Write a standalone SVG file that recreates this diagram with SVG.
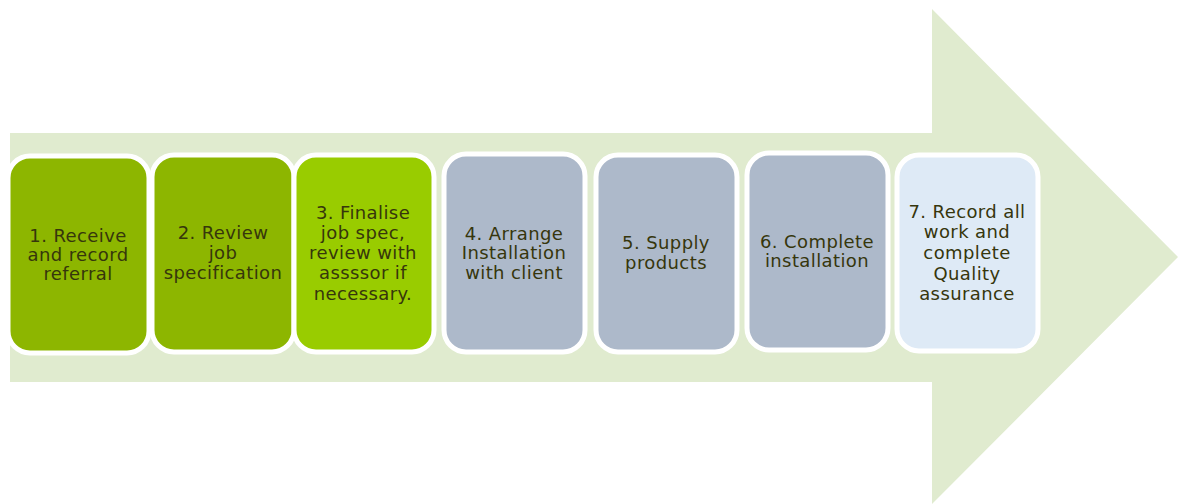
<svg xmlns="http://www.w3.org/2000/svg" width="1178" height="504" viewBox="0 0 1178 504">
<style>
.box{stroke:#ffffff;stroke-width:5}
.g1{fill:#8db600}
.g2{fill:#99cc00}
.gr{fill:#adb9ca}
.lb{fill:#deeaf6}
text{font-family:"DejaVu Sans","Verdana",sans-serif;font-size:18px;letter-spacing:0.4px;fill:#36360c;text-anchor:middle}
</style>
<rect width="1178" height="504" fill="#ffffff"/>
<g id="arrow">
<polygon points="10,133 932,133 932,9 1178,257 932,504 932,382 10,382" fill="#e0ebcf"/>
</g>
<g id="connectors"></g>
<g id="step1">
<rect class="box g1" x="8" y="156" width="141" height="197" rx="22"/>
<text x="78" y="242">1. Receive</text>
<text x="78" y="261">and record</text>
<text x="78" y="280">referral</text>
</g>
<g id="step2">
<rect class="box g1" x="152" y="155" width="142" height="197" rx="22"/>
<text x="223" y="239">2. Review</text>
<text x="223" y="259">job</text>
<text x="223" y="279">specification</text>
</g>
<g id="step3">
<rect class="box g2" x="294" y="155" width="140" height="197" rx="22"/>
<text x="363" y="219">3. Finalise</text>
<text x="363" y="239">job spec,</text>
<text x="363" y="259">review with</text>
<text x="363" y="279">assssor if</text>
<text x="363" y="300">necessary.</text>
</g>
<g id="step4">
<rect class="box gr" x="444" y="154" width="141" height="198" rx="22"/>
<text x="514" y="240">4. Arrange</text>
<text x="514" y="259">Installation</text>
<text x="514" y="279">with client</text>
</g>
<g id="step5">
<rect class="box gr" x="596" y="155" width="141" height="197" rx="22"/>
<text x="666" y="249">5. Supply</text>
<text x="666" y="269">products</text>
</g>
<g id="step6">
<rect class="box gr" x="747" y="153" width="141" height="197" rx="22"/>
<text x="817" y="248">6. Complete</text>
<text x="817" y="267">installation</text>
</g>
<g id="step7">
<rect class="box lb" x="897" y="155" width="141" height="196" rx="22"/>
<text x="967" y="218">7. Record all</text>
<text x="967" y="238">work and</text>
<text x="967" y="259">complete</text>
<text x="967" y="280">Quality</text>
<text x="967" y="300">assurance</text>
</g>
</svg>
